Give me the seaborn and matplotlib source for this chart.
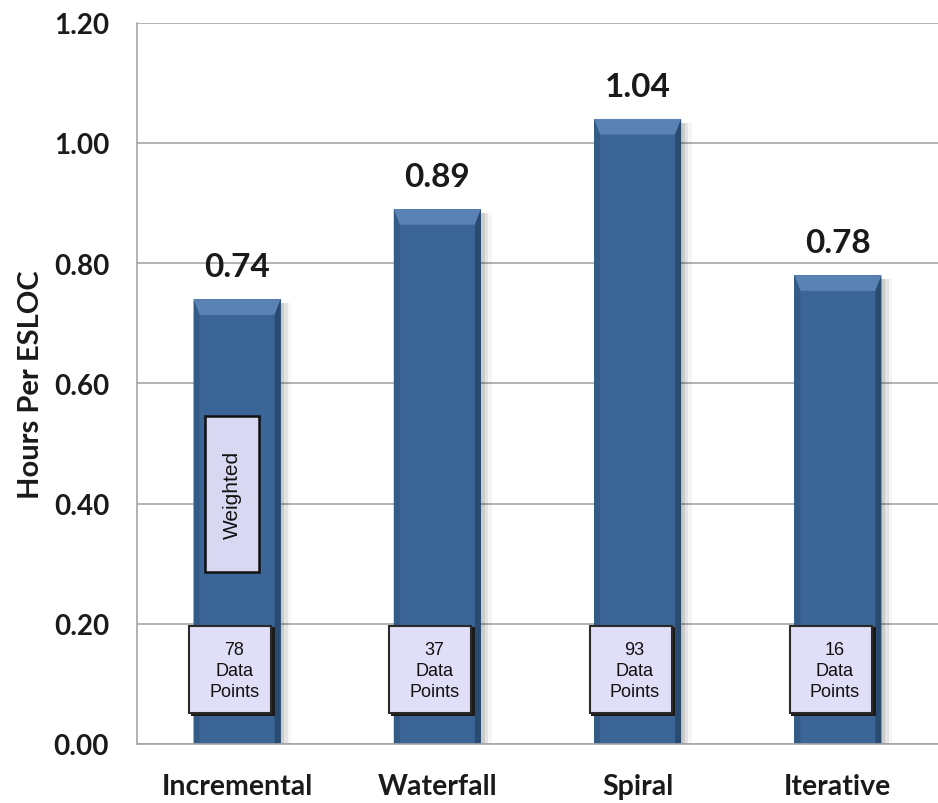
import matplotlib
matplotlib.use("Agg")
import matplotlib.pyplot as plt
import seaborn as sns
import pandas as pd
from matplotlib.patches import Rectangle, Polygon

categories = ["Incremental", "Waterfall", "Spiral", "Iterative"]
values = [0.74, 0.89, 1.04, 0.78]
value_labels = ["0.74", "0.89", "1.04", "0.78"]
data_points = ["78\nData\nPoints", "37\nData\nPoints", "93\nData\nPoints", "16\nData\nPoints"]
yticks = [0.0, 0.2, 0.4, 0.6, 0.8, 1.0, 1.2]
ytick_labels = ["0.00", "0.20", "0.40", "0.60", "0.80", "1.00", "1.20"]

sns.set_theme(style="white")
plt.rcParams["font.family"] = ["Lato", "DejaVu Sans"]

df = pd.DataFrame({"cat": categories, "val": values})

fig = plt.figure(figsize=(9.38, 8.04), dpi=100)
ax = fig.add_axes([0.146, 0.0734, 0.854, 0.897])

ax.set_axisbelow(True)
ax.yaxis.grid(True, color="#a6a6a6", linewidth=1.2)

bar_w = 0.435
# soft shadow to the right
for i, v in enumerate(values):
    for k, a in enumerate([0.10, 0.07, 0.04]):
        ax.add_patch(Rectangle((i - bar_w / 2 + 0.01 * (k + 1), 0), bar_w + 0.008 * (k + 1),
                               v - 0.006, facecolor="#000000", alpha=a, zorder=1.5, linewidth=0))

sns.barplot(data=df, x="cat", y="val", color="#3b6497", saturation=1,
            width=bar_w, ax=ax, linewidth=0, zorder=2)

# bevel effect
bx = 0.03   # side bevel width (data units)
by = 0.026  # top bevel height
for i, v in enumerate(values):
    l, r = i - bar_w / 2, i + bar_w / 2
    ax.add_patch(Polygon([(l, v), (r, v), (r - bx, v - by), (l + bx, v - by)],
                         closed=True, facecolor="#5a82b5", linewidth=0, zorder=2.5))
    ax.add_patch(Polygon([(l, 0), (l, v), (l + bx, v - by), (l + bx, 0)],
                         closed=True, facecolor="#345a86", linewidth=0, zorder=2.5))
    ax.add_patch(Polygon([(r, 0), (r, v), (r - bx, v - by), (r - bx, 0)],
                         closed=True, facecolor="#2a4b70", linewidth=0, zorder=2.5))

for i, (v, lab) in enumerate(zip(values, value_labels)):
    ax.text(i, v + 0.054, lab, ha="center", va="center", fontsize=24,
            fontweight="bold", color="#1a1a1a")

# data point boxes
for i, lab in enumerate(data_points):
    ax.add_patch(Rectangle((i - 0.232, 0.047), 0.42, 0.147,
                           facecolor="#1a1a1a", linewidth=0, zorder=3))
    ax.add_patch(Rectangle((i - 0.24, 0.052), 0.41, 0.145,
                           facecolor="#e0dff7", edgecolor="#2a2a2a", linewidth=1.5, zorder=3.2))
    ax.text(i - 0.015, 0.122, lab, ha="center", va="center", fontsize=13,
            family=["Liberation Sans", "DejaVu Sans"], color="#111111",
            linespacing=1.3, zorder=4)

# Weighted box
ax.add_patch(Rectangle((-0.16, 0.287), 0.27, 0.258,
                       facecolor="#d9d8f2", edgecolor="#111111", linewidth=1.8, zorder=3.2))
ax.text(-0.025, 0.416, "Weighted", rotation=90, ha="center", va="center",
        fontsize=15, family=["Liberation Sans", "DejaVu Sans"], color="#111111", zorder=4)

ax.set_ylim(0, 1.2)
ax.set_xlim(-0.5, 3.5)
ax.set_yticks(yticks)
ax.set_yticklabels(ytick_labels, fontsize=20, fontweight="bold", color="#1a1a1a")
ax.tick_params(axis="x", labelsize=20.5, pad=21, colors="#1a1a1a", length=0)
ax.tick_params(axis="y", pad=20, length=0)
for t in ax.get_xticklabels():
    t.set_fontweight("bold")
ax.set_xlabel("")
ax.set_ylabel("Hours Per ESLOC", fontsize=21, fontweight="bold", color="#1a1a1a", labelpad=7)

for s in ["top", "right"]:
    ax.spines[s].set_visible(False)
ax.spines["left"].set_color("#a6a6a6")
ax.spines["bottom"].set_color("#a6a6a6")
ax.spines["left"].set_linewidth(1.2)
ax.spines["bottom"].set_linewidth(1.2)

fig.savefig("out.png", dpi=100)
